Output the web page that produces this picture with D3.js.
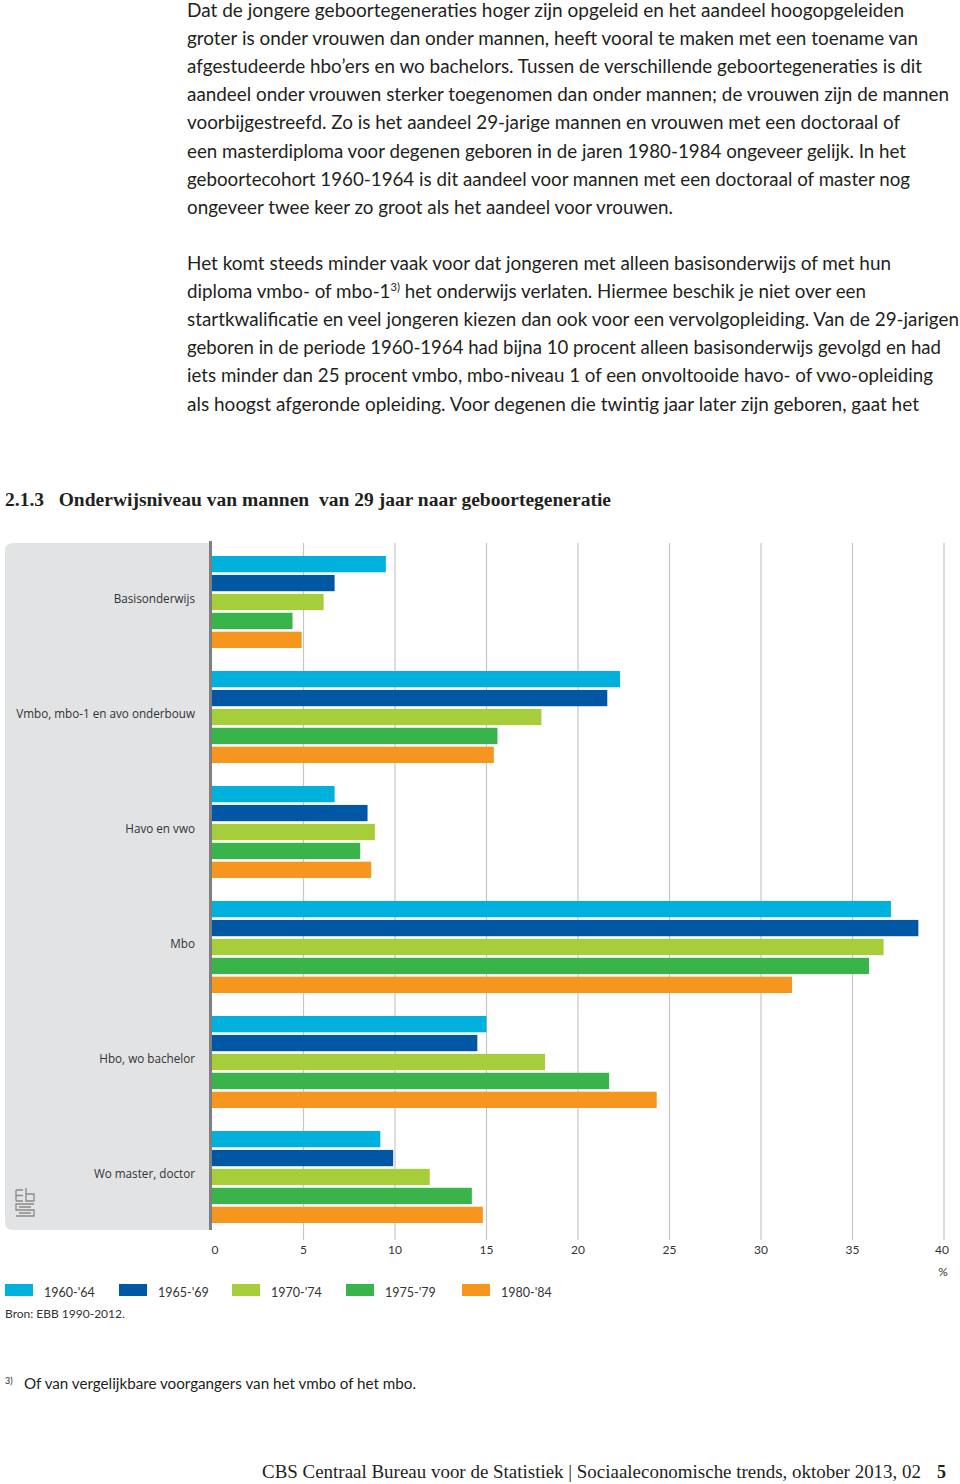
<!DOCTYPE html>
<html><head><meta charset="utf-8">
<script src="https://cdn.jsdelivr.net/npm/d3@7/dist/d3.min.js"></script>
<style>
html,body{margin:0;padding:0;background:#fff;}
svg{display:block;}
</style>
</head><body>
<svg id="c" width="960" height="1484"></svg>
<script>
const categories = ["Basisonderwijs","Vmbo, mbo-1 en avo onderbouw","Havo en vwo","Mbo","Hbo, wo bachelor","Wo master, doctor"];
const seriesNames = ["1960-'64","1965-'69","1970-'74","1975-'79","1980-'84"];
const seriesColors = ["#00b1dd","#0058a5","#a6cd3a","#39b44a","#f7961e"];
const v1960 = [9.5, 22.3, 6.7, 37.1, 15.0, 9.2];
const v1965 = [6.7, 21.6, 8.5, 38.6, 14.5, 9.9];
const v1970 = [6.1, 18.0, 8.9, 36.7, 18.2, 11.9];
const v1975 = [4.4, 15.6, 8.1, 35.9, 21.7, 14.2];
const v1980 = [4.9, 15.4, 8.7, 31.7, 24.3, 14.8];
const seriesValues = [v1960, v1965, v1970, v1975, v1980];
const xTicks = [0,5,10,15,20,25,30,35,40];

const para1 = [
 ["Dat de jongere geboortegeneraties hoger zijn opgeleid en het aandeel hoogopgeleiden", 717],
 ["groter is onder vrouwen dan onder mannen, heeft vooral te maken met een toename van", 731],
 ["afgestudeerde hbo\u2019ers en wo bachelors. Tussen de verschillende geboortegeneraties is dit", 735],
 ["aandeel onder vrouwen sterker toegenomen dan onder mannen; de vrouwen zijn de mannen", 762],
 ["voorbijgestreefd. Zo is het aandeel 29-jarige mannen en vrouwen met een doctoraal of", 713],
 ["een masterdiploma voor degenen geboren in de jaren 1980-1984 ongeveer gelijk. In het", 719],
 ["geboortecohort 1960-1964 is dit aandeel voor mannen met een doctoraal of master nog", 723],
 ["ongeveer twee keer zo groot als het aandeel voor vrouwen.", 486]
];
const para2 = [
 ["Het komt steeds minder vaak voor dat jongeren met alleen basisonderwijs of met hun", 704],
 ["diploma vmbo- of mbo-1|3)| het onderwijs verlaten. Hiermee beschik je niet over een", 679],
 ["startkwalificatie en veel jongeren kiezen dan ook voor een vervolgopleiding. Van de 29-jarigen", 772],
 ["geboren in de periode 1960-1964 had bijna 10 procent alleen basisonderwijs gevolgd en had", 754],
 ["iets minder dan 25 procent vmbo, mbo-niveau 1 of een onvoltooide havo- of vwo-opleiding", 746],
 ["als hoogst afgeronde opleiding. Voor degenen die twintig jaar later zijn geboren, gaat het", 732]
];

const svg = d3.select("#c");
const bodyFont = "Lato, 'Open Sans', sans-serif";

function writeLines(lines, x0, y0, step){
  lines.forEach((l,i)=>{
    const t = svg.append("text").attr("x",x0).attr("y",y0+i*step)
      .attr("font-family",bodyFont).attr("font-size",18.5).attr("fill","#231f20")
      .attr("textLength",l[1]).attr("lengthAdjust","spacingAndGlyphs");
    const parts = l[0].split("|");
    parts.forEach((p,j)=>{
      const ts = t.append("tspan").text(p);
      if(j%2===1){ ts.attr("font-size",11).attr("dy",-7); }
      else if(j>0){ ts.attr("dy",7); }
    });
  });
}
writeLines(para1, 187, 17, 28.1);
writeLines(para2, 187, 270, 28.1);

// Title
svg.append("text").attr("x",5).attr("y",506)
  .attr("font-family","'Liberation Serif', serif").attr("font-weight","bold")
  .attr("font-size",18.5).attr("fill","#231f20")
  .attr("textLength",606).attr("lengthAdjust","spacingAndGlyphs")
  .attr("xml:space","preserve")
  .text("2.1.3\u00a0\u00a0 Onderwijsniveau van mannen \u00a0van 29 jaar naar geboortegeneratie");

// Chart
const x = d3.scaleLinear().domain([0,40]).range([212,944]);
const y = d3.scaleBand().domain(categories).range([543,1233]);
const yi = d3.scaleBand().domain(seriesNames).range([13,105]).paddingInner(0.14);

// grey panel
svg.append("path")
  .attr("d", `M${5+8},543 H211 V1230 H${5+8} Q5,1230 5,${1230-8} V${543+8} Q5,543 ${5+8},543 Z`)
  .attr("fill","#e2e3e5");

// gridlines
svg.append("g").selectAll("line").data(xTicks.slice(1)).join("line")
  .attr("x1",d=>x(d)).attr("x2",d=>x(d)).attr("y1",543).attr("y2",1240)
  .attr("stroke","#c6c6c6").attr("stroke-width",1.2);

// bars
const groups = svg.append("g").selectAll("g").data(categories).join("g")
  .attr("transform",d=>`translate(0,${y(d)})`);
groups.selectAll("rect").data((c,ci)=>seriesNames.map((s,si)=>({s,si,v:seriesValues[si][ci]})))
  .join("rect")
  .attr("x",x(0)).attr("y",d=>yi(d.s)).attr("height",yi.bandwidth())
  .attr("width",d=>x(d.v)-x(0)).attr("fill",d=>seriesColors[d.si]);

// axis line
svg.append("line").attr("x1",210.5).attr("x2",210.5).attr("y1",541).attr("y2",1230)
  .attr("stroke","#7f7f7f").attr("stroke-width",3);

// category labels
svg.append("g").selectAll("text").data(categories).join("text")
  .attr("x",195).attr("y",d=>y(d)+y.bandwidth()/2+2)
  .attr("text-anchor","end").attr("font-family","'Open Sans', sans-serif")
  .attr("font-size",11.7).attr("fill","#333").text(d=>d);

// x tick labels
const xAxis = d3.axisBottom(x).tickValues(xTicks).tickSize(0).tickPadding(0);
const ax = svg.append("g").attr("transform","translate(0,1245)").call(xAxis);
ax.select(".domain").remove();
ax.selectAll("text").attr("font-family",bodyFont).attr("font-size",12).attr("fill","#333");
ax.selectAll(".tick").attr("transform",d=>`translate(${x(d)+ (d===0?3:0) - (d===40?2:0)},0)`);
svg.append("text").attr("x",943).attr("y",1276).attr("text-anchor","middle")
  .attr("font-family",bodyFont).attr("font-size",12).attr("fill","#333").text("%");

// legend
const legX = [5,119,232,346,462];
const leg = svg.append("g").selectAll("g").data(seriesNames).join("g")
  .attr("transform",(d,i)=>`translate(${legX[i]},1284)`);
leg.append("rect").attr("width",28).attr("height",12).attr("fill",(d,i)=>seriesColors[i]);
leg.append("text").attr("x",39).attr("y",12.5).attr("font-family",bodyFont)
  .attr("font-size",12.5).attr("fill","#333").text(d=>d);

// source
svg.append("text").attr("x",5).attr("y",1318).attr("font-family",bodyFont)
  .attr("font-size",12).attr("fill","#333").text("Bron: EBB 1990-2012.");

// CBS logo
const logo = svg.append("g").attr("fill","none").attr("stroke","#8a8a8a").attr("stroke-width",1.3);
logo.append("path").attr("d","M16,1190 V1201 M16,1190 H23 M16,1201 H23 M16,1195.5 H23");
logo.append("path").attr("d","M26,1188 V1201 H34 V1194 H26");
logo.append("path").attr("d","M34,1204 H16 V1210 H34 V1216 H16 M19,1207 H31 M19,1213 H31");

// footnote
svg.append("text").attr("x",5).attr("y",1384).attr("font-family",bodyFont)
  .attr("font-size",9).attr("fill","#231f20").text("3)");
svg.append("text").attr("x",24).attr("y",1389).attr("font-family",bodyFont)
  .attr("font-size",15.5).attr("fill","#231f20").attr("textLength",392).attr("lengthAdjust","spacingAndGlyphs")
  .text("Of van vergelijkbare voorgangers van het vmbo of het mbo.");

// footer
svg.append("text").attr("x",262).attr("y",1478).attr("font-family","'Liberation Serif', serif")
  .attr("font-size",18).attr("fill","#231f20").attr("textLength",659).attr("lengthAdjust","spacingAndGlyphs")
  .text("CBS Centraal Bureau voor de Statistiek | Sociaaleconomische trends, oktober 2013, 02");
svg.append("text").attr("x",937).attr("y",1478).attr("font-family","'Liberation Serif', serif")
  .attr("font-size",18).attr("font-weight","bold").attr("fill","#231f20").text("5");
</script>
</body></html>
